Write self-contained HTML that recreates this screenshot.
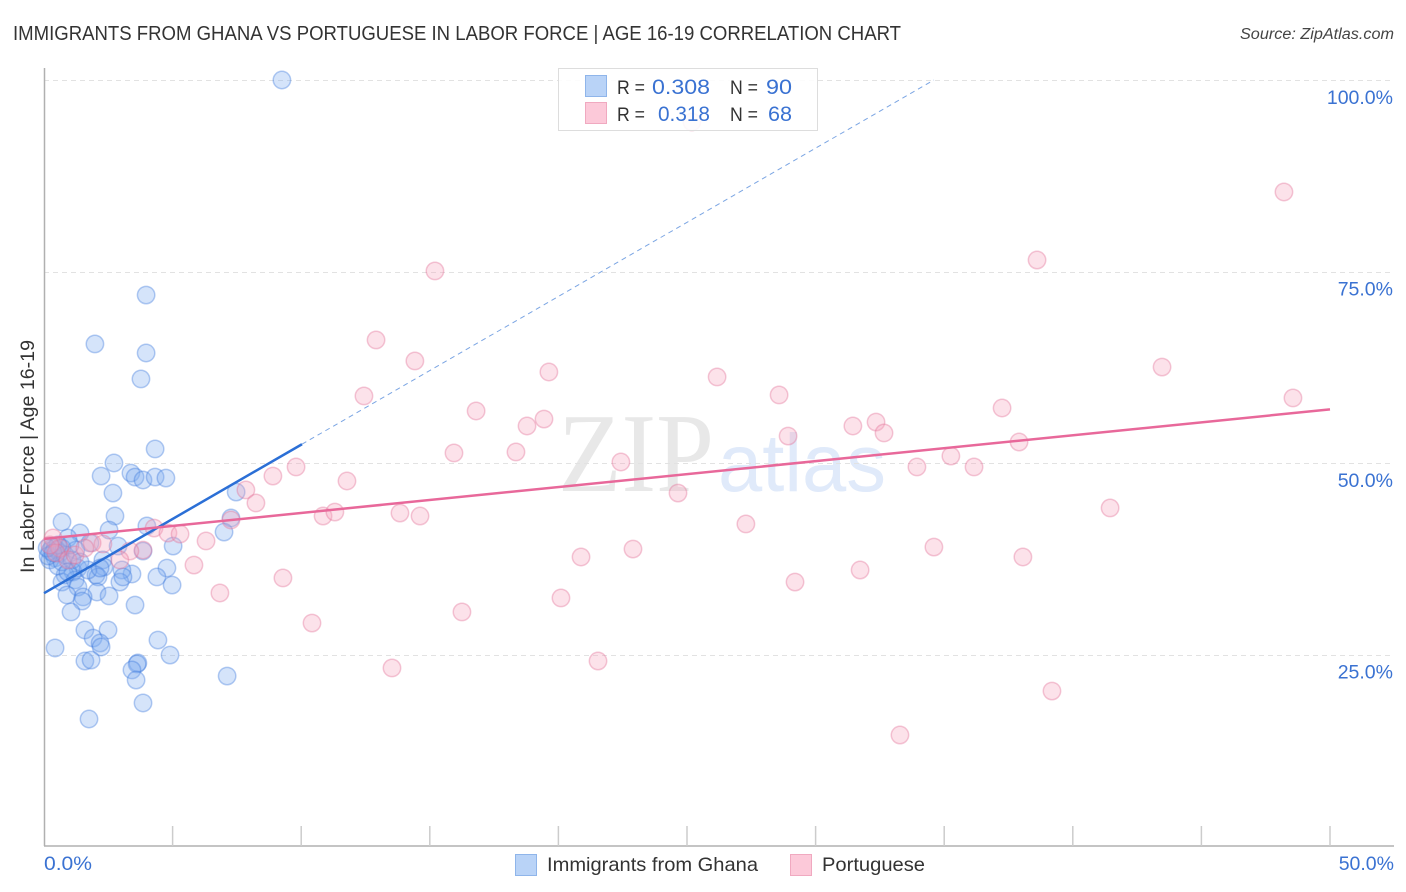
<!DOCTYPE html>
<html lang="en">
<head>
<meta charset="utf-8">
<title>Immigrants from Ghana vs Portuguese in Labor Force | Age 16-19 Correlation Chart</title>
<style>
html,body{margin:0;padding:0;background:#fff;width:1406px;height:892px;overflow:hidden}
svg{display:block;font-family:"Liberation Sans",sans-serif}
</style>
</head>
<body>
<svg id="chart" width="1406" height="892" viewBox="0 0 1406 892" xmlns="http://www.w3.org/2000/svg">
  <text x="13" y="40" font-size="20" fill="#333" textLength="888" lengthAdjust="spacingAndGlyphs">IMMIGRANTS FROM GHANA VS PORTUGUESE IN LABOR FORCE | AGE 16-19 CORRELATION CHART</text>
  <text x="1394" y="39" font-size="15.5" font-style="italic" fill="#444" text-anchor="end" textLength="154" lengthAdjust="spacingAndGlyphs">Source: ZipAtlas.com</text>
  <g>
    <text x="558" y="491" font-family="'Liberation Serif',serif" font-size="112" fill="#e8e8e8" textLength="156" lengthAdjust="spacingAndGlyphs">ZIP</text>
    <text x="718" y="491" font-size="82" fill="#e0eafa" textLength="168" lengthAdjust="spacingAndGlyphs">atlas</text>
  </g>
  <g id="grid"></g>
  <g id="axes"></g>
  <g id="points"></g>
  <g id="trends"></g>
  <text transform="translate(34,456.5) rotate(-90)" font-size="19.5" fill="#333" text-anchor="middle" textLength="233" lengthAdjust="spacingAndGlyphs">In Labor Force | Age 16-19</text>

  <g>
    <rect x="558.5" y="68.5" width="259" height="62" fill="#fff" fill-opacity="0.88" stroke="#ddd"/>
    <rect x="585.5" y="75.5" width="21" height="21" fill="#b9d3f7" stroke="#8fb5ea"/>
    <rect x="585.5" y="102.5" width="21" height="21" fill="#fcc9d9" stroke="#f0a9c0"/>
    <text x="617" y="94" font-size="19.5" fill="#333" textLength="28" lengthAdjust="spacingAndGlyphs">R =</text>
    <text x="652" y="94" font-size="21" fill="#3a72d2" textLength="58" lengthAdjust="spacingAndGlyphs">0.308</text>
    <text x="730" y="94" font-size="19.5" fill="#333" textLength="28" lengthAdjust="spacingAndGlyphs">N =</text>
    <text x="766" y="94" font-size="21" fill="#3a72d2" textLength="26" lengthAdjust="spacingAndGlyphs">90</text>
    <text x="617" y="121" font-size="19.5" fill="#333" textLength="28" lengthAdjust="spacingAndGlyphs">R =</text>
    <text x="658" y="121" font-size="21" fill="#3a72d2" textLength="52" lengthAdjust="spacingAndGlyphs">0.318</text>
    <text x="730" y="121" font-size="19.5" fill="#333" textLength="28" lengthAdjust="spacingAndGlyphs">N =</text>
    <text x="768" y="121" font-size="21" fill="#3a72d2" textLength="24" lengthAdjust="spacingAndGlyphs">68</text>
  </g>

  <g>
    <rect x="515.5" y="854.5" width="21" height="21" fill="#b9d3f7" stroke="#8fb5ea"/>
    <text x="547" y="871" font-size="19.5" fill="#333" textLength="211" lengthAdjust="spacingAndGlyphs">Immigrants from Ghana</text>
    <rect x="790.5" y="854.5" width="21" height="21" fill="#fcc9d9" stroke="#f0a9c0"/>
    <text x="822" y="871" font-size="19.5" fill="#333" textLength="103" lengthAdjust="spacingAndGlyphs">Portuguese</text>
  </g>
</svg>
<script>
const ghanaX = [9.25,3.97,1.98,3.97,3.77,4.32,2.72,3.38,2.22,3.54,3.85,4.32,4.74,2.68,7.47,2.76,7.27,0.70,4.00,2.53,7.00,1.40,0.93,2.88,1.79,5.02,3.85,1.24,4.78,4.39,4.98,3.54,3.42,3.03,2.95,3.07,2.29,2.33,2.02,2.10,1.32,1.13,0.82,0.70,1.21,2.06,2.53,1.32,0.89,1.52,1.48,1.05,1.59,2.49,1.91,2.18,2.22,0.43,4.43,4.90,1.59,1.83,3.65,3.62,3.42,3.58,7.12,3.85,1.75,0.23,0.31,0.43,0.51,0.62,0.70,0.43,0.23,0.54,0.82,1.09,0.70,0.93,1.71,2.18,1.01,0.16,0.54,0.12,0.35,1.40];
const ghanaY = [100.0,71.93,65.54,64.36,60.97,51.83,50.0,48.69,48.30,48.17,47.78,48.17,48.04,46.08,46.21,43.08,42.82,42.30,41.78,41.25,40.99,40.86,40.21,39.16,39.56,39.16,38.51,38.64,36.29,35.12,34.07,31.46,35.51,36.03,34.46,35.12,37.34,36.42,35.38,35.12,36.29,35.77,35.38,34.46,34.73,33.16,32.64,33.81,32.77,32.51,31.98,30.55,28.2,28.2,27.15,26.5,25.98,25.85,26.89,24.93,24.15,24.28,23.89,23.76,22.98,21.67,22.19,18.67,16.58,38.51,38.9,38.9,38.64,38.25,38.9,37.6,37.34,36.55,37.99,37.34,37.08,35.77,36.03,36.29,39.3,37.86,39.3,38.9,38.25,37.08];
const portugueseX = [25.19,48.21,38.61,15.2,12.91,14.42,43.47,19.63,26.17,12.44,28.58,48.56,16.8,37.25,19.44,18.78,31.45,32.35,32.66,28.93,37.91,15.94,18.35,35.26,22.43,33.94,36.16,9.8,8.9,11.78,7.85,24.65,8.24,41.45,10.85,11.31,13.84,14.62,7.27,27.29,4.28,4.82,5.29,6.3,34.6,22.9,3.85,3.34,20.88,38.06,2.29,1.87,2.95,5.83,31.73,9.29,29.2,6.84,20.1,16.25,10.42,21.54,13.53,39.19,33.28,0.35,0.62,0.47,0.93,1.21,0.23,1.59];
const portugueseY = [94.52,85.38,76.5,75.07,66.06,63.32,62.53,61.88,61.23,58.75,58.88,58.49,56.79,57.18,55.74,54.83,54.83,55.35,53.92,53.52,52.74,51.31,51.44,50.91,50.13,49.48,49.48,49.48,48.3,47.65,46.48,46.08,44.78,44.13,43.08,43.6,43.47,43.08,42.56,42.04,41.51,40.86,40.73,39.82,39.03,38.77,38.64,38.51,37.73,37.73,39.43,39.56,37.34,36.68,36.03,34.99,34.46,33.03,32.38,30.55,29.11,24.15,23.24,20.23,14.49,40.21,38.9,38.25,37.34,37.99,39.3,38.9];
const xTickValues = [0,5,10,15,20,25,30,35,40,45,50];
const xTickLabels = ["0.0%","50.0%"];
const yTickValues = [25,50,75,100];
const yTickLabels = ["25.0%","50.0%","75.0%","100.0%"];
const ghanaTrendSolidX = [0,10.03];
const ghanaTrendSolidY = [33.0,52.45];
const ghanaTrendDashedX = [10.03,34.6];
const ghanaTrendDashedY = [52.45,100.0];
const portugueseTrendX = [0,50];
const portugueseTrendY = [40.1,57.0];

const NS = "http://www.w3.org/2000/svg";
function xScale(v){return 44 + v * 25.72;}
function yScale(v){return 846 - v * 7.66;}
function make(parent, tag, attrs, text){
  const el = document.createElementNS(NS, tag);
  for (const k in attrs) el.setAttribute(k, attrs[k]);
  if (text !== undefined) el.textContent = text;
  parent.appendChild(el);
  return el;
}
const grid = document.getElementById("grid");
const axes = document.getElementById("axes");
const points = document.getElementById("points");
const trends = document.getElementById("trends");

yTickValues.forEach(function(v, i){
  const y = Math.round(yScale(v)) + 0.5;
  const line = make(grid, "line", {x1:44, x2:1393, y1:y, y2:y, stroke:"#e2e2e2", "stroke-width":1, "stroke-dasharray":"5 4"});
  
  
  const label = make(axes, "text", {x:1393, y:yScale(v) + 24, "font-size":19.5, fill:"#3a72d2", "text-anchor":"end"}, yTickLabels[i]);
  
  
});

const yAxis = make(axes, "line", {x1:44.5, x2:44.5, y1:68, y2:846, stroke:"#b0b0b0", "stroke-width":1.5});


const xAxis = make(axes, "line", {x1:44, x2:1394, y1:846, y2:846, stroke:"#b0b0b0", "stroke-width":1.5});



xTickValues.slice(1).forEach(function(v){
  const tick = make(axes, "line", {x1:xScale(v), x2:xScale(v), y1:826, y2:846, stroke:"#cccccc", "stroke-width":1.5});
  
  
});
const xLabelLeft = make(axes, "text", {x:44, y:870, "font-size":19.5, fill:"#3a72d2", textLength:48, lengthAdjust:"spacingAndGlyphs"}, xTickLabels[0]);


const xLabelRight = make(axes, "text", {x:1394, y:870, "font-size":19.5, fill:"#3a72d2", "text-anchor":"end"}, xTickLabels[1]);



ghanaX.forEach(function(v, i){
  const c = make(points, "circle", {cx:xScale(v), cy:yScale(ghanaY[i]), r:8.7, fill:"rgba(125,172,240,0.32)", stroke:"rgba(60,120,220,0.38)", "stroke-width":1.5});
  
  
});
portugueseX.forEach(function(v, i){
  const c = make(points, "circle", {cx:xScale(v), cy:yScale(portugueseY[i]), r:8.7, fill:"rgba(245,165,190,0.32)", stroke:"rgba(225,110,150,0.38)", "stroke-width":1.5});
  
  
});

const dashed = make(trends, "line", {x1:xScale(ghanaTrendDashedX[0]), y1:yScale(ghanaTrendDashedY[0]), x2:xScale(ghanaTrendDashedX[1]), y2:yScale(ghanaTrendDashedY[1]), stroke:"#7ba5e3", "stroke-width":1, "stroke-dasharray":"5 4"});


const solid = make(trends, "line", {x1:xScale(ghanaTrendSolidX[0]), y1:yScale(ghanaTrendSolidY[0]), x2:xScale(ghanaTrendSolidX[1]), y2:yScale(ghanaTrendSolidY[1]), stroke:"#2b6fd6", "stroke-width":2.5});


const pinkLine = make(trends, "line", {x1:xScale(portugueseTrendX[0]), y1:yScale(portugueseTrendY[0]), x2:xScale(portugueseTrendX[1]), y2:yScale(portugueseTrendY[1]), stroke:"#e8689a", "stroke-width":2.5});


</script>
</body>
</html>
